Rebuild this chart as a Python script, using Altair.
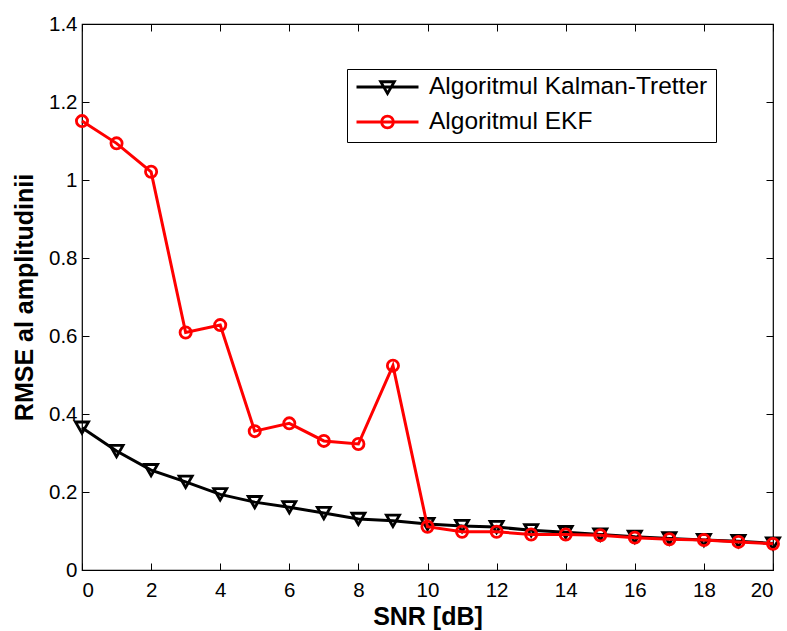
import altair as alt
import pandas as pd

snr = list(range(21))
kalman = [0.365, 0.305, 0.256, 0.226, 0.194, 0.174, 0.161, 0.146, 0.131, 0.126,
          0.118, 0.113, 0.110, 0.102, 0.097, 0.091, 0.085, 0.081, 0.077, 0.074, 0.068]
ekf = [1.151, 1.094, 1.021, 0.609, 0.628, 0.356, 0.376, 0.331, 0.323, 0.524,
       0.111, 0.098, 0.098, 0.091, 0.091, 0.089, 0.083, 0.079, 0.077, 0.072, 0.067]
series_names = ["Algoritmul Kalman-Tretter", "Algoritmul EKF"]
series_colors = ["black", "red"]
x_ticks = list(range(0, 21, 2))
y_ticks = [0, 0.2, 0.4, 0.6, 0.8, 1.0, 1.2, 1.4]

df = pd.DataFrame({
    "snr": snr * 2,
    "value": kalman + ekf,
    "series": [series_names[0]] * len(snr) + [series_names[1]] * len(snr),
})

FONT = "Liberation Sans"
xs = alt.Scale(domain=[0, 20], nice=False, zero=False)
ys = alt.Scale(domain=[0, 1.4], nice=False)

# legend symbols: line segment with marker (unit coordinates)
tri_path = "M-1,0H1M-0.22,-0.17H0.22L0,0.21Z"
circ_path = "M-1,0H1M0.19,0A0.19,0.19,0,1,1,-0.19,0A0.19,0.19,0,1,1,0.19,0Z"

base = alt.Chart(df)

x_axis_main = alt.Axis(orient="bottom", values=x_ticks, title="SNR [dB]", grid=False,
                       domain=False, tickColor="black", tickSize=alt.ExprRef(expr="-7"),
                       labelPadding=17, labelFont=FONT, labelFontSize=20.5, labelColor="black",
                       titleFont=FONT, titleFontSize=25, titleFontWeight="bold",
                       titleColor="black", titlePadding=4)
y_axis_main = alt.Axis(orient="left", values=y_ticks, format=".2~f", title="RMSE al amplitudinii",
                       grid=False, domain=False, tickColor="black", tickSize=alt.ExprRef(expr="-7"),
                       labelPadding=12, labelFont=FONT, labelFontSize=20.5, labelColor="black",
                       titleFont=FONT, titleFontSize=25, titleFontWeight="bold",
                       titleColor="black", titlePadding=11)
x_axis_top = alt.Axis(orient="top", values=x_ticks, labels=False, title=None, grid=False,
                      domain=False, tickColor="black", tickSize=alt.ExprRef(expr="-7"))
y_axis_right = alt.Axis(orient="right", values=y_ticks, labels=False, title=None, grid=False,
                        domain=False, tickColor="black", tickSize=alt.ExprRef(expr="-7"))

k_line = base.transform_filter(alt.datum.series == series_names[0]).mark_line(
    color=series_colors[0], strokeWidth=3).encode(
    x=alt.X("snr:Q", scale=xs, axis=x_axis_main),
    y=alt.Y("value:Q", scale=ys, axis=y_axis_main))
k_pts = base.transform_filter(alt.datum.series == series_names[0]).mark_point(
    shape="triangle-down", filled=False, color=series_colors[0], strokeWidth=2.8,
    size=170, opacity=1).encode(
    x=alt.X("snr:Q", scale=xs, axis=None),
    y=alt.Y("value:Q", scale=ys, axis=None))
e_line = base.transform_filter(alt.datum.series == series_names[1]).mark_line(
    color=series_colors[1], strokeWidth=3).encode(
    x=alt.X("snr:Q", scale=xs, axis=None),
    y=alt.Y("value:Q", scale=ys, axis=None))
e_pts = base.transform_filter(alt.datum.series == series_names[1]).mark_point(
    shape="circle", filled=False, color=series_colors[1], strokeWidth=2.8,
    size=125, opacity=1).encode(
    x=alt.X("snr:Q", scale=xs, axis=None),
    y=alt.Y("value:Q", scale=ys, axis=None))

legend = alt.Legend(orient="none", legendX=265, legendY=45, title=None,
                    labelFont=FONT, labelFontSize=24.5, labelColor="black", labelLimit=500,
                    symbolSize=3844, symbolStrokeWidth=2.8, symbolFillColor="transparent",
                    symbolOpacity=1,
                    clipHeight=20, rowPadding=10, strokeColor="black", fillColor="white",
                    padding=8, labelOffset=9)
leg_layer = base.transform_filter("datum.snr < 0").mark_point(
    filled=False, strokeWidth=2.8, opacity=1).encode(
    x=alt.X("snr:Q", scale=xs, axis=x_axis_top),
    y=alt.Y("value:Q", scale=ys, axis=y_axis_right),
    color=alt.Color("series:N", scale=alt.Scale(domain=series_names, range=series_colors), legend=legend),
    shape=alt.Shape("series:N", scale=alt.Scale(domain=series_names, range=[tri_path, circ_path]), legend=legend),
)

chart = alt.layer(k_line, k_pts, e_line, e_pts, leg_layer).resolve_axis(
    x="independent", y="independent"
).properties(
    width=691, height=546,
    autosize=alt.AutoSizeParams(type="none"),
    padding={"left": 82, "top": 24, "right": 14, "bottom": 61},
    background="white",
).configure_view(stroke="black", strokeWidth=1.2)

chart.save("out.html", embed_options={"renderer": "svg", "actions": False})
